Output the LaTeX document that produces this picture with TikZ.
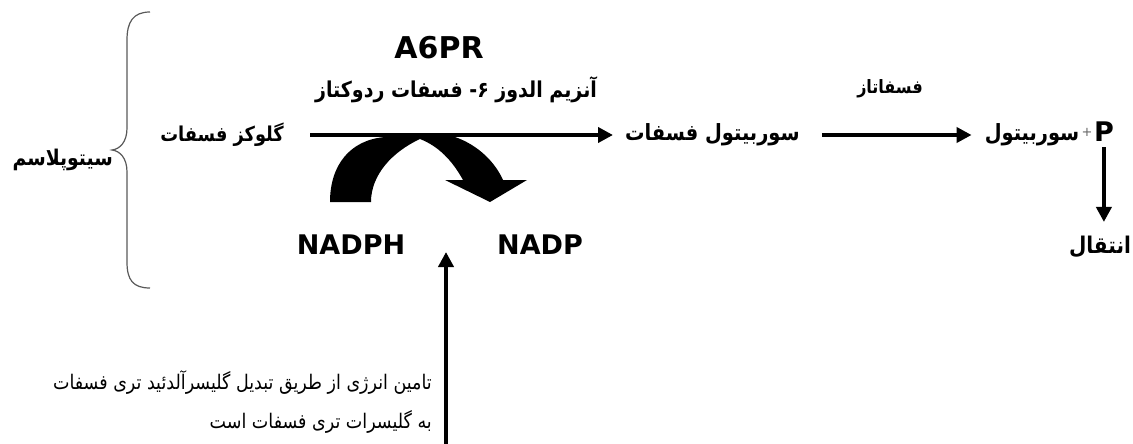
\documentclass[tikz,border=0pt]{standalone}
\usepackage{fontspec}
\usepackage{graphicx}
\setmainfont{DejaVu Sans}
\newfontfamily\ar[Script=Arabic]{DejaVu Sans}
\TeXXeTstate=1
\usetikzlibrary{arrows.meta}
\newcommand\fatext[1]{\scalebox{1}[1.15]{\beginR #1\endR}}
\begin{document}
\begin{tikzpicture}[x=1pt,y=-1pt,
  lat/.style={inner sep=0pt, font=\fontsize{27}{30}\selectfont\bfseries},
  arb/.style={inner sep=0pt, font=\ar\fontsize{#1}{24}\selectfont\bfseries},
  arb/.default=19,
  arn/.style={inner sep=0pt, font=\ar\fontsize{17.5}{20}\selectfont},
  flow/.style={line width=4pt, -{Triangle[length=15pt,width=15pt]}},
  brace/.style={draw=black!65, line width=1.2pt},
]
\useasboundingbox (0,0) rectangle (1133,444);

% brace and cytoplasm label
\draw[brace] (150,12) .. controls (133,12) and (127,22) .. (127,40) -- (127,128)
  .. controls (127,142) and (120,149) .. (112,150)
  .. controls (120,151) and (127,158) .. (127,172) -- (127,262)
  .. controls (127,280) and (133,288) .. (150,288);
\node[arb=18.8, anchor=east] (cyto) at (113,160) {\fatext{سیتوپلاسم}};

% main row
\node[arb=17.8, anchor=east] (glu) at (284,135) {\fatext{گلوکز فسفات}};
\node[arb=19.4, anchor=west] (sorp) at (625,135) {\fatext{سوربیتول فسفات}};
\node[lat, font=\fontsize{30}{32}\selectfont\bfseries] (a6pr) at (439,48) {A6PR};
\node[arb=19] (enz) at (456,90) {\fatext{آنزیم الدوز ۶- فسفات ردوکتاز}};
\draw[flow] ([xshift=26pt]glu.east) -- ([xshift=-12pt]sorp.west);

\node[arb=16] (phos) at (890,89) {\fatext{فسفاتاز}};
\node[lat, anchor=east] (P) at (1114,132) {P};
\node[inner sep=0pt, text=black!60, font=\fontsize{13}{14}\selectfont, anchor=east] (plus) at ([xshift=-1pt]P.west) {+};
\node[arb=19.4, anchor=east] (sorb) at ([xshift=-2pt]plus.west |- sorp.east) {\fatext{سوربیتول}};
\draw[flow] ([xshift=22pt]sorp.east) -- ([xshift=-13pt]sorb.west);

\node[arb=20] (trans) at (1100,247) {\fatext{انتقال}};
\draw[flow] ([yshift=-5pt]P.south) -- ([yshift=14pt]P.south |- trans.north);

% cofactors
\node[lat] (nadph) at (351,245) {NADPH};
\node[lat] (nadp) at (540,245) {NADP};

% curved thick arrow (NADPH -> NADP)
\fill (330,202) .. controls (330,165) and (350,140) .. (385,137)
  -- (455,137) .. controls (478,145) and (495,162) .. (503,180)
  -- (527,180) -- (490,202) -- (445,180) -- (463,180)
  .. controls (452,160) and (438,146) .. (420,139)
  .. controls (392,152) and (371,175) .. (371,202) -- cycle;

% energy supply arrow and note
\coordinate (upbot) at (446,446);
\coordinate (uptop) at (446,252);
\draw[flow] (upbot) -- (uptop);
\node[arn, anchor=east, align=right] (note) at (432,402)
  {\fatext{تامین انرژی از طریق تبدیل گلیسرآلدئید تری فسفات}\\[16pt]
   \fatext{به گلیسرات تری فسفات است}};
\end{tikzpicture}
\end{document}
